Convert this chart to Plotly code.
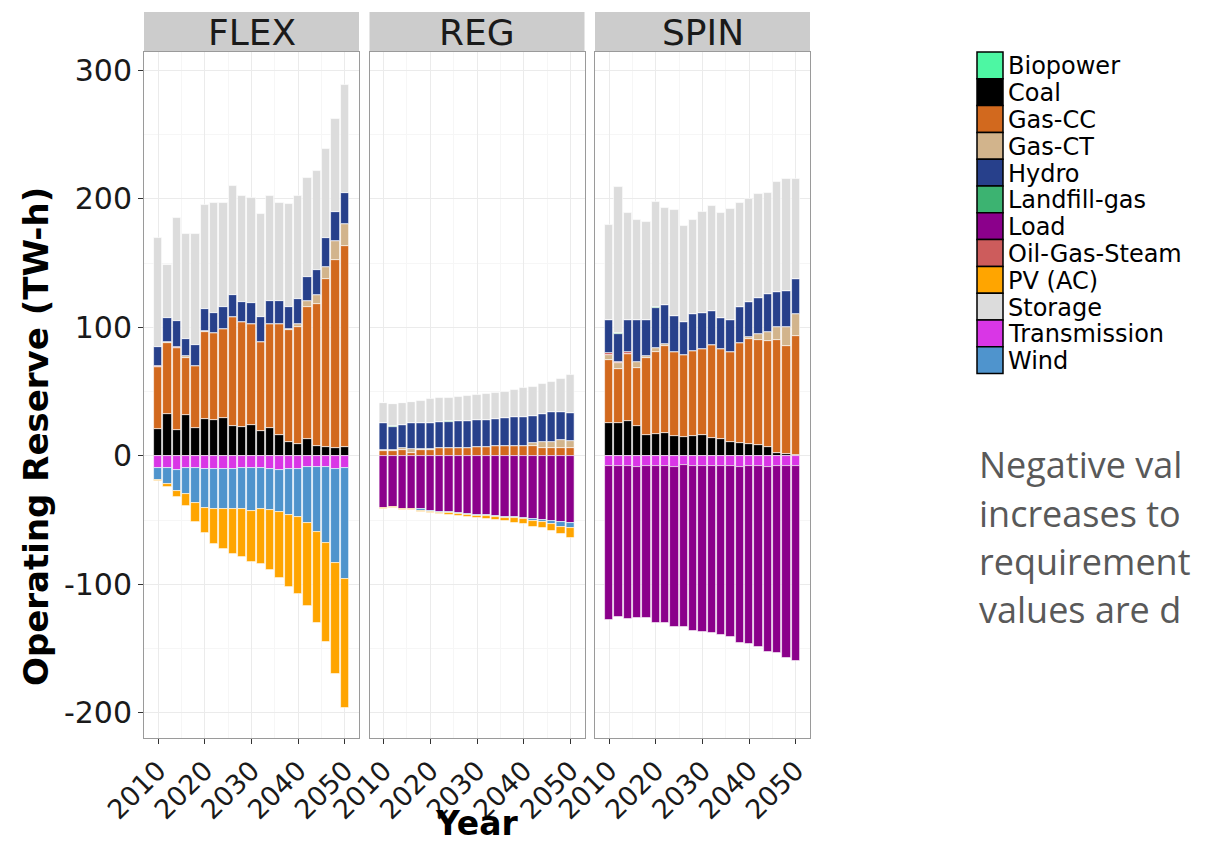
import plotly.graph_objects as go

years = list(range(2010, 2051, 2))

# ---------------- FLEX ----------------
flex_coal = [20.7, 32.7, 20, 32, 22, 28.5, 28, 29.3, 23.6, 22.3, 24, 19.7, 21.4, 16, 11, 9.3, 13, 8, 6.7, 6, 7.3]
flex_gas_cc = [48.3, 55.3, 64, 44, 48, 68, 68, 69.2, 84.4, 81.7, 78.7, 69.3, 81.1, 86.5, 87, 91.3, 103, 110, 130.8, 146.5, 156.4]
flex_gas_ct = [0, 1, 0, 2, 0, 1, 0, 0, 0, 0, 0, 0, 0, 0, 0.5, 2.1, 4.6, 7, 9.5, 14.5, 16.8]
flex_ogs = [1, 0, 1, 0, 0, 0, 0, 0, 0, 0, 0, 0, 0, 0, 0, 0, 0, 0, 0, 0, 0]
flex_hydro = [15, 18, 20, 13, 16, 16.5, 15, 17.5, 17, 15.6, 16.3, 19, 18.1, 18.1, 17.5, 19.3, 18.4, 20, 23, 23, 24.5]
flex_storage = [85, 42, 80, 82, 87, 81, 86, 81, 85, 83, 82, 80, 81.4, 76, 80, 80.6, 77, 77, 69, 72, 84]
flex_transmission = [-9, -9, -11, -9, -9, -10, -10, -10, -10, -9, -9, -9, -10.4, -11, -10.4, -10.4, -8.8, -8.3, -8.3, -10.4, -9]
flex_wind = [-9.7, -13, -16.2, -20.8, -27.8, -30.3, -31.5, -31.5, -31.5, -32.5, -33.8, -32.2, -31.6, -32.8, -35.6, -36.8, -43.6, -50.6, -59.7, -73.1, -87]
flex_pv = [-0.5, -1.9, -4.4, -9, -14.2, -19.7, -27.2, -31.1, -34.8, -36.8, -39.9, -43.1, -46.7, -51.4, -55.7, -60.5, -64.6, -70.8, -77, -86.1, -100.3]

# ---------------- REG ----------------
reg_gas_cc = [4, 4, 5, 2.6, 4.5, 4.5, 6, 6.5, 6.5, 6.5, 7.3, 7.3, 7.8, 7.8, 7.8, 7.8, 7.8, 6.5, 6.5, 6, 6]
reg_gas_ct = [1, 1, 1, 2.5, 1, 1, 0, 0, 0, 0, 0, 0, 0, 0, 0, 0, 2, 4.5, 4, 6.5, 5.7]
reg_hydro = [20.4, 17.8, 18, 20.3, 19.9, 19.9, 20.2, 20.2, 20.7, 21, 20.7, 20.7, 21, 21.5, 22.2, 22.2, 21.3, 21.4, 23.5, 21.5, 21.5]
reg_landfill = [0.4, 0.4, 0.4, 0.4, 0.4, 0.4, 0.4, 0.4, 0, 0, 0, 0, 0, 0, 0, 0, 0, 0, 0, 0, 0]
reg_storage = [15.1, 16.9, 17, 16.1, 16.9, 18.2, 18.2, 18.2, 19, 19.5, 19.5, 20.2, 20.5, 20.7, 21.4, 22.7, 22.9, 23.6, 23.8, 26, 29.8]
reg_load = [-40.7, -40, -41.2, -41.5, -41.5, -42.5, -43.3, -43.8, -44.6, -45, -45.9, -45.9, -46.4, -47.2, -47.2, -48.2, -49.3, -49.8, -50.6, -51, -51.9]
reg_wind = [0, 0, 0, 0, -1, -0.8, -0.8, -0.8, -0.8, -0.8, -0.8, -0.8, -1, -1, -1, -1.2, -1.1, -1.8, -2.3, -4, -3.9]
reg_pv = [-0.5, -0.5, -0.5, -0.5, -0.8, -1.3, -1.3, -1.6, -1.3, -1.7, -1.5, -2.1, -2.4, -2.6, -3.7, -3.8, -4.6, -4.7, -5.5, -5.7, -7.8]

# ---------------- SPIN ----------------
spin_coal = [25.4, 25.4, 27.2, 23.3, 16.3, 17, 17.6, 15.6, 14.5, 15.6, 16.3, 13.7, 13, 11.2, 9.9, 9.3, 8.6, 6.7, 2, 1.3, 0.8]
spin_gas_cc = [49.3, 42, 52.2, 44.9, 59.7, 63.7, 68, 65.1, 64.1, 66.4, 67, 72.7, 70, 69.5, 77.8, 81.5, 81.7, 82.8, 88.3, 84.6, 92.8]
spin_gas_ct = [3.9, 4.7, 0, 5.2, 1.8, 3.1, 1.5, 0, 0, 0, 0, 0, 0, 0, 0, 1.5, 4.7, 7.3, 10.4, 14.8, 16.6]
spin_ogs = [1.3, 1.3, 1.8, 0, 0, 0, 0, 0, 0, 0, 0, 0, 0, 0, 0, 0, 0, 0, 0, 0, 0]
spin_hydro = [25.9, 21.3, 24.6, 32.4, 28, 31.2, 30.4, 28.3, 25.9, 28.5, 27.7, 26.4, 24.7, 25.1, 28, 27.3, 28.2, 29.2, 26.7, 28, 27.3]
spin_landfill = [0, 0.7, 0, 0, 0, 0.6, 0, 0, 0, 0, 0, 0, 0, 0, 0, 0, 0, 0, 0, 0, 0]
spin_storage = [74.2, 114.3, 83.6, 78.2, 76.2, 82.4, 75.8, 82.4, 74.5, 73.5, 79, 81.8, 81.7, 86.4, 80.9, 80.4, 80.8, 79, 85.6, 86.6, 77.8]
spin_transmission = [-8, -8, -8, -8.5, -8, -8, -8, -8.5, -7, -8, -8, -8, -8, -8, -8.5, -8, -8, -8.5, -7.5, -7.5, -7.5]
spin_load = [-119.6, -117, -119.1, -117.8, -118.3, -121.7, -122.2, -124.3, -125.8, -127.9, -129.2, -130, -131.3, -133.1, -136.8, -138.3, -140.4, -143.8, -146.1, -150, -152]

# ---------------- labels / colours ----------------
legend_names = ["Biopower", "Coal", "Gas-CC", "Gas-CT", "Hydro", "Landfill-gas", "Load",
                "Oil-Gas-Steam", "PV (AC)", "Storage", "Transmission", "Wind"]
colors = {
    "Biopower": "#4DF7A3", "Coal": "#000000", "Gas-CC": "#D2691E", "Gas-CT": "#D2B48C",
    "Hydro": "#27408B", "Landfill-gas": "#3CB371", "Load": "#8B008B",
    "Oil-Gas-Steam": "#CD5C5C", "PV (AC)": "#FFA500", "Storage": "#DCDCDC",
    "Transmission": "#D936E6", "Wind": "#4F94CD",
}
facets = ["FLEX", "REG", "SPIN"]
x_tickvals = [2010, 2020, 2030, 2040, 2050]
x_ticktext = ["2010", "2020", "2030", "2040", "2050"]
y_tickvals = [-200, -100, 0, 100, 200, 300]
y_ticktext = ["-200", "-100", "0", "100", "200", "300"]
note_lines = ["Negative val", "increases to", "requirement", "values are d"]

panels = {
    "FLEX": [("Coal", flex_coal), ("Gas-CC", flex_gas_cc), ("Gas-CT", flex_gas_ct),
             ("Oil-Gas-Steam", flex_ogs), ("Hydro", flex_hydro), ("Storage", flex_storage),
             ("Transmission", flex_transmission), ("Wind", flex_wind), ("PV (AC)", flex_pv)],
    "REG": [("Gas-CC", reg_gas_cc), ("Gas-CT", reg_gas_ct), ("Hydro", reg_hydro),
            ("Landfill-gas", reg_landfill), ("Storage", reg_storage),
            ("Load", reg_load), ("Wind", reg_wind), ("PV (AC)", reg_pv)],
    "SPIN": [("Coal", spin_coal), ("Gas-CC", spin_gas_cc), ("Gas-CT", spin_gas_ct),
             ("Oil-Gas-Steam", spin_ogs), ("Hydro", spin_hydro), ("Landfill-gas", spin_landfill),
             ("Storage", spin_storage), ("Transmission", spin_transmission), ("Load", spin_load)],
}

W, H = 1214, 846
FONT = "DejaVu Sans, Liberation Sans, Arial, sans-serif"
px_x = lambda p: p / W
px_y = lambda p: 1 - p / H

x_domains = [(144, 359), (369.5, 584.5), (595, 810)]
y_top, y_bot = 52, 738

fig = go.Figure()
for i, f in enumerate(facets):
    suffix = "" if i == 0 else str(i + 1)
    for name, vals in panels[f]:
        fig.add_trace(go.Bar(
            x=years, y=vals, name=name, width=1.8,
            marker=dict(color=colors[name], line=dict(color="rgba(255,255,255,0.75)", width=0.8)),
            xaxis="x" + suffix, yaxis="y" + suffix, showlegend=False,
            hovertemplate=f"{f} {name}<br>%{{x}}: %{{y}}<extra></extra>",
        ))

layout = dict(
    width=W, height=H, margin=dict(l=0, r=0, t=0, b=0, autoexpand=False),
    paper_bgcolor="white", plot_bgcolor="white",
    barmode="relative", bargap=0,
    font=dict(family=FONT, color="#1a1a1a"),
    showlegend=False,
)
shapes, annotations = [], []
for i, f in enumerate(facets):
    suffix = "" if i == 0 else str(i + 1)
    x0, x1 = x_domains[i]
    layout["xaxis" + suffix] = dict(
        domain=[px_x(x0), px_x(x1)], range=[2007, 2053], anchor="y" + suffix,
        automargin=False,
        tickmode="array", tickvals=x_tickvals, ticktext=x_ticktext, tickangle=-45,
        tickfont=dict(size=27, color="#1a1a1a", family=FONT),
        ticks="outside", ticklen=5, tickcolor="#333333",
        showgrid=True, gridcolor="#EBEBEB", gridwidth=1,
        minor=dict(dtick=5, tick0=2005, showgrid=True, gridcolor="#F6F6F6", ticks=""),
        showline=True, mirror=True, linecolor="#9a9a9a", linewidth=1, zeroline=False,
    )
    layout["yaxis" + suffix] = dict(
        domain=[px_y(y_bot), px_y(y_top)], range=[-219.5, 314.4], anchor="x" + suffix,
        automargin=False,
        tickmode="array", tickvals=y_tickvals, ticktext=y_ticktext, showticklabels=(i == 0),
        tickfont=dict(size=30, color="#1a1a1a", family=FONT),
        ticks="outside" if i == 0 else "", ticklen=5, tickcolor="#333333",
        showgrid=True, gridcolor="#EBEBEB", gridwidth=1,
        minor=dict(dtick=50, tick0=-250, showgrid=True, gridcolor="#F6F6F6", ticks=""),
        showline=True, mirror=True, linecolor="#9a9a9a", linewidth=1, zeroline=False,
    )
    # facet strip
    shapes.append(dict(type="rect", xref="paper", yref="paper",
                       x0=px_x(x0), x1=px_x(x1), y0=px_y(y_top), y1=px_y(12),
                       fillcolor="#CCCCCC", line=dict(width=0), layer="below"))
    annotations.append(dict(text=f, xref="paper", yref="paper", x=px_x((x0 + x1) / 2),
                            y=px_y(32), xanchor="center", yanchor="middle", showarrow=False,
                            font=dict(size=36, color="#1a1a1a", family=FONT)))

# axis titles
annotations.append(dict(text="<b>Operating Reserve (TW-h)</b>", xref="paper", yref="paper",
                        x=px_x(36), y=px_y(437), textangle=-90, showarrow=False,
                        xanchor="center", yanchor="middle",
                        font=dict(size=34, color="#000000", family=FONT)))
annotations.append(dict(text="<b>Year</b>", xref="paper", yref="paper",
                        x=px_x(477), y=px_y(823), showarrow=False,
                        xanchor="center", yanchor="middle",
                        font=dict(size=33, color="#000000", family=FONT)))

# legend (key boxes + labels)
leg_top, leg_step = 52, 26.8
for k, name in enumerate(legend_names):
    t = leg_top + k * leg_step
    shapes.append(dict(type="rect", xref="paper", yref="paper",
                       x0=px_x(977), x1=px_x(1003), y0=px_y(t + leg_step), y1=px_y(t),
                       fillcolor=colors[name], line=dict(color="#000000", width=1.5)))
    annotations.append(dict(text=name, xref="paper", yref="paper", x=px_x(1006),
                            y=px_y(t + leg_step / 2 + 1), xanchor="left", yanchor="middle",
                            showarrow=False, font=dict(size=24, color="#000000", family=FONT)))

# side note lines
for k, line in enumerate(note_lines):
    annotations.append(dict(
        text=line, xref="paper", yref="paper", x=px_x(977), y=px_y(465 + k * 48),
        xanchor="left", yanchor="middle", align="left", showarrow=False,
        font=dict(size=36, color="#595959", family="Open Sans, Lato, sans-serif")))

layout["shapes"] = shapes
layout["annotations"] = annotations
fig.update_layout(**layout)
fig.write_html("out.html")
